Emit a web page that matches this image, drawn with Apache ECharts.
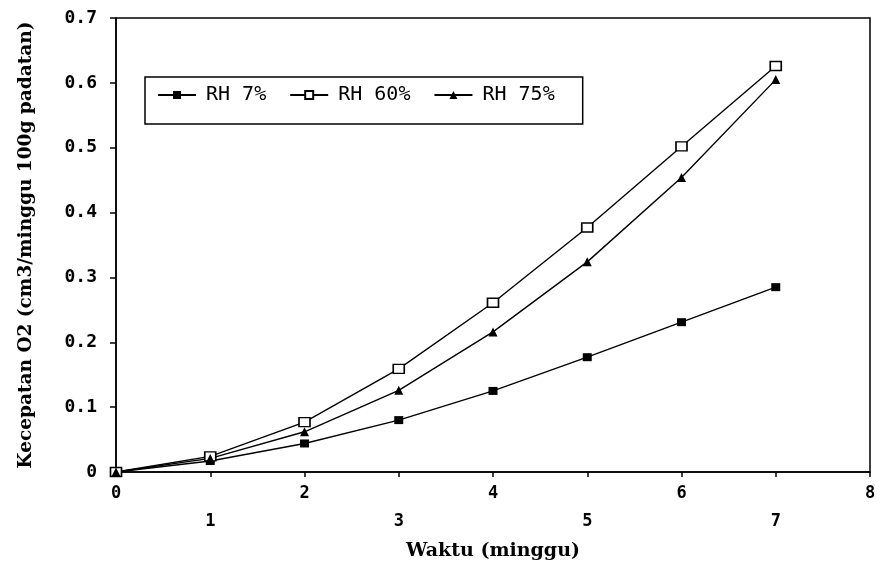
<!DOCTYPE html>
<html>
<head>
<meta charset="utf-8">
<script src="https://cdn.jsdelivr.net/npm/echarts@6/dist/echarts.min.js"></script>
<style>html,body{margin:0;padding:0;background:#fff;}#c{width:884px;height:570px;}</style>
</head>
<body>
<div id="c"></div>
<script>
const weeks = [0, 1, 2, 3, 4, 5, 6, 7];
const rh7 = [0, 0.017, 0.044, 0.080, 0.125, 0.177, 0.231, 0.285];
const rh60 = [0, 0.024, 0.077, 0.159, 0.261, 0.377, 0.502, 0.626];
const rh75 = [0, 0.021, 0.062, 0.126, 0.216, 0.324, 0.454, 0.605];
const seriesNames = ['RH 7%', 'RH 60%', 'RH 75%'];
const xTitle = 'Waktu (minggu)';
const yTitle = 'Kecepatan O2 (cm3/minggu 100g padatan)';

const pair = arr => weeks.map((w, i) => [w, arr[i]]);
const mono = '"DejaVu Sans Mono", "Liberation Mono", monospace';
const serif = '"DejaVu Serif", "Liberation Serif", serif';

const chart = echarts.init(document.getElementById('c'));
chart.setOption({
  backgroundColor: '#fff',
  animation: false,
  grid: { left: 116, right: 14, top: 18, bottom: 98, show: true, borderColor: '#000', borderWidth: 1.5 },
  legend: {
    left: 145, top: 77,
    padding: [8, 28, 19, 12],
    borderColor: '#000', borderWidth: 1.5,
    itemWidth: 38, itemHeight: 10, itemGap: 23,
    textStyle: { fontFamily: mono, fontSize: 20, color: '#000', padding: [0, 0, 0, 5] },
    data: seriesNames
  },
  xAxis: {
    type: 'value', min: 0, max: 8, interval: 1,
    name: xTitle, nameLocation: 'middle', nameGap: 70,
    nameTextStyle: { fontFamily: serif, fontWeight: 'bold', fontSize: 19, color: '#000' },
    axisLine: { lineStyle: { color: '#000', width: 1.5 } },
    axisTick: { show: true, length: 5, lineStyle: { color: '#000', width: 1.5 } },
    splitLine: { show: false },
    axisLabel: {
      margin: 8, lineHeight: 28, color: '#000',
      fontFamily: mono, fontWeight: 'bold', fontSize: 17,
      formatter: v => (v % 2 === 0 ? String(v) : '\n' + v)
    }
  },
  yAxis: {
    type: 'value', min: 0, max: 0.7, interval: 0.1,
    name: yTitle, nameLocation: 'middle', nameGap: 80, nameRotate: 90,
    nameTextStyle: { fontFamily: serif, fontWeight: 'bold', fontSize: 18.5, color: '#000' },
    axisLine: { show: true, lineStyle: { color: '#000', width: 1.5 } },
    axisTick: { show: true, length: 6, lineStyle: { color: '#000', width: 1.5 } },
    splitLine: { show: false },
    axisLabel: {
      margin: 19, color: '#000',
      fontFamily: mono, fontWeight: 'bold', fontSize: 18,
      formatter: v => (v === 0 ? '0' : v.toFixed(1))
    }
  },
  series: [
    {
      name: seriesNames[0], type: 'line', data: pair(rh7),
      symbol: 'rect', symbolSize: [9, 8],
      lineStyle: { color: '#000', width: 1.4 },
      itemStyle: { color: '#000' }
    },
    {
      name: seriesNames[1], type: 'line', data: pair(rh60),
      symbol: 'rect', symbolSize: [11, 9],
      lineStyle: { color: '#000', width: 1.4 },
      itemStyle: { color: '#fff', borderColor: '#000', borderWidth: 1.5 }
    },
    {
      name: seriesNames[2], type: 'line', data: pair(rh75),
      symbol: 'triangle', symbolSize: 9,
      lineStyle: { color: '#000', width: 1.4 },
      itemStyle: { color: '#000' }
    }
  ]
});
</script>
</body>
</html>
